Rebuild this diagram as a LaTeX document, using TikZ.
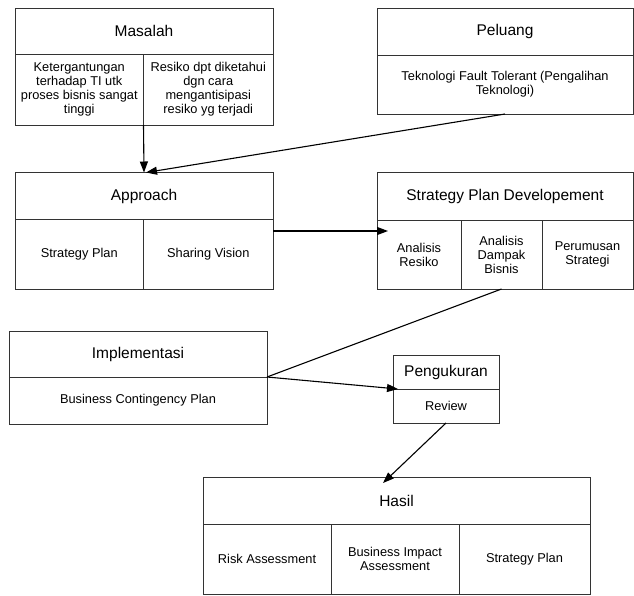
\documentclass[tikz,border=0pt]{standalone}
\usepackage{fontspec}
\setmainfont{Liberation Sans}
\usetikzlibrary{arrows.meta}
\newcommand\mycell[6]{%
  \node[cellbox, minimum width={(#4-#2)*1pt}, minimum height={(#5-#3)*1pt}]
    (#1) at ({(#2+#4)/2},{(#3+#5)/2}) {#6};}
\begin{document}
\begin{tikzpicture}[x=1pt,y=-1pt,
  cellbox/.style={draw=black!80, line width=0.9pt, rectangle, inner sep=0pt, outer sep=0pt,
    align=center, font=\fontsize{12.8}{14}\selectfont},
  conn/.style={draw=black, line width=1.1pt},
  arr/.style={conn, -{Triangle[length=11pt,width=8pt]}}]
\useasboundingbox (0,0) rectangle (634,595);
\fill[white] (0,0) rectangle (634,595);
% Masalah
\mycell{masH}{15}{8}{273}{54}{\fontsize{15.5}{17}\selectfont Masalah}
\mycell{masL}{15}{54}{143.5}{125}{Ketergantungan\\terhadap TI utk\\proses bisnis sangat\\tinggi}
\mycell{masR}{143.5}{54}{273}{125}{Resiko dpt diketahui\\dgn cara\\mengantisipasi\\resiko yg terjadi}
% Peluang
\mycell{pelH}{377}{8}{633}{55}{\fontsize{15.5}{17}\selectfont Peluang}
\mycell{pelB}{377}{55}{633}{114}{Teknologi Fault Tolerant (Pengalihan\\Teknologi)}
% Approach
\mycell{appH}{15}{172.5}{273}{219.5}{\fontsize{15.5}{17}\selectfont Approach}
\mycell{appL}{15}{219.5}{143.5}{289}{Strategy Plan}
\mycell{appR}{143.5}{219.5}{273}{289}{Sharing Vision}
% Strategy Plan Developement
\mycell{spdH}{377}{172.5}{633}{220}{\fontsize{15.5}{17}\selectfont Strategy Plan Developement}
\mycell{spdA}{377}{220}{461}{289}{Analisis\\Resiko}
\mycell{spdB}{461}{220}{542}{289}{Analisis\\Dampak\\Bisnis}
\mycell{spdC}{542}{220}{633}{289}{Perumusan\\Strategi}
% Implementasi
\mycell{impH}{9}{331}{267}{377}{\fontsize{15.5}{17}\selectfont Implementasi}
\mycell{impB}{9}{377}{267}{424}{Business Contingency Plan}
% Pengukuran
\mycell{pengH}{393}{355}{499}{389}{\fontsize{15.5}{17}\selectfont Pengukuran}
\mycell{pengB}{393}{389}{499}{423}{Review}
% Hasil
\mycell{hasH}{203}{477}{590}{524}{\fontsize{15.5}{17}\selectfont Hasil}
\mycell{hasA}{203}{524}{331}{594}{Risk Assessment}
\mycell{hasB}{331}{524}{459}{594}{Business Impact\\Assessment}
\mycell{hasC}{459}{524}{590}{594}{Strategy Plan}
% connectors
\coordinate (a3e) at (388,231);
\draw[arr] (masL.south east) -- (appH.north);
\draw[arr] (pelB.south) -- ([xshift=2pt]appH.north);
\draw[arr] ([yshift=-11.5pt]appR.north east) -- (a3e);
\draw[conn] (spdB.south) -- (impH.south east);
\draw[arr] (impH.south east) -- ([xshift=5pt]pengH.south west);
\draw[arr] (pengB.south) -- ([xshift=-13.5pt,yshift=-6pt]hasH.north);
\end{tikzpicture}
\end{document}
